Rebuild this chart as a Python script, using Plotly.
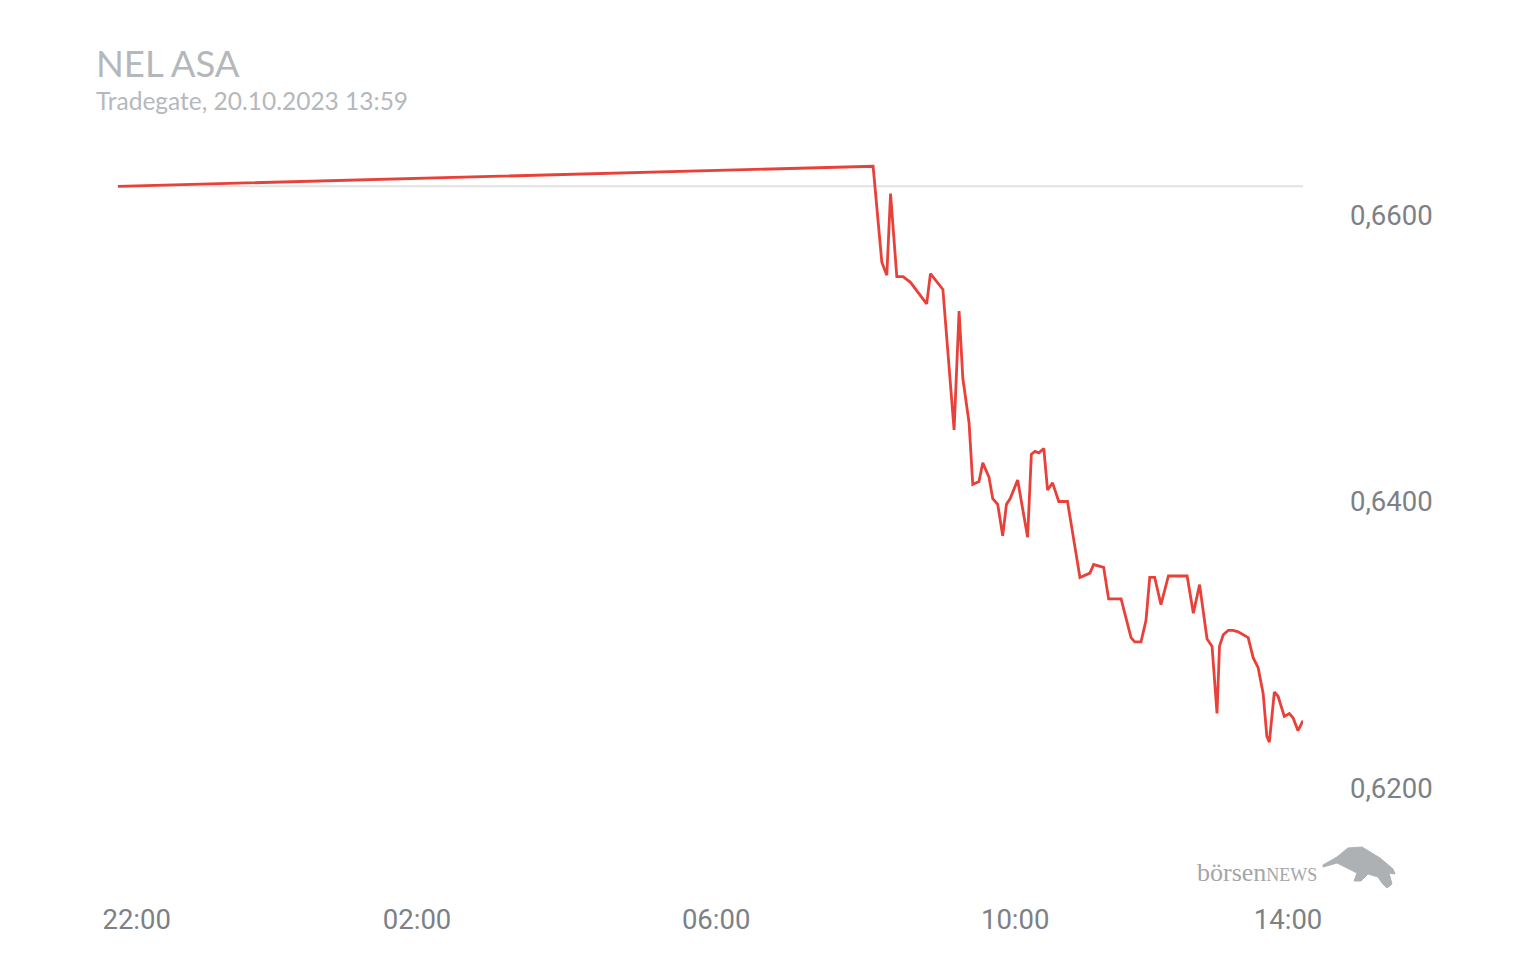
import plotly.graph_objects as go

# ---- data ----
trade_times = [
    "2023-10-19 22:00", "2023-10-20 08:06",
    "2023-10-20 08:13", "2023-10-20 08:17", "2023-10-20 08:20", "2023-10-20 08:25",
    "2023-10-20 08:30", "2023-10-20 08:36", "2023-10-20 08:49", "2023-10-20 08:52",
    "2023-10-20 09:02", "2023-10-20 09:06", "2023-10-20 09:11", "2023-10-20 09:15",
    "2023-10-20 09:18", "2023-10-20 09:23", "2023-10-20 09:26", "2023-10-20 09:31",
    "2023-10-20 09:34", "2023-10-20 09:39", "2023-10-20 09:42", "2023-10-20 09:46",
    "2023-10-20 09:50", "2023-10-20 09:53", "2023-10-20 09:56", "2023-10-20 10:02",
    "2023-10-20 10:10", "2023-10-20 10:13", "2023-10-20 10:16", "2023-10-20 10:19",
    "2023-10-20 10:23", "2023-10-20 10:26", "2023-10-20 10:30", "2023-10-20 10:35",
    "2023-10-20 10:42", "2023-10-20 10:52", "2023-10-20 10:57", "2023-10-20 11:00",
    "2023-10-20 11:03", "2023-10-20 11:11", "2023-10-20 11:15", "2023-10-20 11:25",
    "2023-10-20 11:33", "2023-10-20 11:36", "2023-10-20 11:41", "2023-10-20 11:45",
    "2023-10-20 11:48", "2023-10-20 11:52", "2023-10-20 11:57", "2023-10-20 12:03",
    "2023-10-20 12:18", "2023-10-20 12:23", "2023-10-20 12:28", "2023-10-20 12:31",
    "2023-10-20 12:34", "2023-10-20 12:38", "2023-10-20 12:42", "2023-10-20 12:44",
    "2023-10-20 12:47", "2023-10-20 12:51", "2023-10-20 12:55", "2023-10-20 12:59",
    "2023-10-20 13:07", "2023-10-20 13:11", "2023-10-20 13:15", "2023-10-20 13:19",
    "2023-10-20 13:22", "2023-10-20 13:24", "2023-10-20 13:28", "2023-10-20 13:31",
    "2023-10-20 13:36", "2023-10-20 13:40", "2023-10-20 13:43", "2023-10-20 13:47",
    "2023-10-20 13:51",
]
prices = [
    0.6620, 0.6634,
    0.6567, 0.6558, 0.6615, 0.6557, 0.6557, 0.6553, 0.6538, 0.6559,
    0.6548, 0.6506, 0.6450, 0.6533, 0.6486, 0.6455, 0.6412, 0.6414,
    0.6427, 0.6417, 0.6402, 0.6398, 0.6376, 0.6398, 0.6402, 0.6415,
    0.6375, 0.6433, 0.6435, 0.6434, 0.6437, 0.6408, 0.6413, 0.6400,
    0.6400, 0.6347, 0.6349, 0.6350, 0.6356, 0.6354, 0.6332, 0.6332,
    0.6305, 0.6302, 0.6302, 0.6317, 0.6347, 0.6347, 0.6328, 0.6348,
    0.6348, 0.6322, 0.6342, 0.6321, 0.6304, 0.6299, 0.6252, 0.6299,
    0.6307, 0.6310, 0.6310, 0.6309, 0.6305, 0.6291, 0.6284, 0.6266,
    0.6236, 0.6232, 0.6267, 0.6264, 0.6250, 0.6252, 0.6249, 0.6240,
    0.6247,
]
previous_close = 0.6620

y_tick_values = [0.62, 0.64, 0.66]
# edge labels are justified inward like in the source chart
x_tick_values = ["2023-10-19 22:15", "2023-10-20 02:00", "2023-10-20 06:00",
                 "2023-10-20 10:00", "2023-10-20 13:39"]
x_tick_labels = ["22:00", "02:00", "06:00", "10:00", "14:00"]

title_text = "NEL ASA"
subtitle_text = "Tradegate, 20.10.2023 13:59"

# ---- layout geometry ----
W, H = 1536, 960
ML, MR, MT, MB = 118, 233, 150, 70
PW, PH = W - ML - MR, H - MT - MB


def to_paper(px, py):
    return (px - ML) / PW, (H - MB - py) / PH


# rough silhouette of the logo's bull (decoration, pixel outline)
bull_outline = [(1323, 865), (1337, 857), (1348, 848), (1362, 847), (1380, 858),
                (1393, 869), (1395, 874), (1389, 873), (1392, 884), (1387, 888),
                (1382, 883), (1378, 877), (1368, 874), (1361, 881), (1354, 881),
                (1357, 873), (1347, 868), (1337, 863), (1323, 867)]
bull_path = "M " + " L ".join(
    "{:.5f},{:.5f}".format(*to_paper(px, py)) for px, py in bull_outline) + " Z"

# ---- figure ----
fig = go.Figure()
fig.add_trace(go.Scatter(
    x=trade_times, y=prices, mode="lines",
    line=dict(color="#e8413a", width=2.8),
    hoverinfo="skip", showlegend=False,
))

fig.add_shape(type="line", xref="paper", x0=0, x1=1, yref="y",
              y0=previous_close, y1=previous_close,
              line=dict(color="#e2e2e2", width=2), layer="below")
fig.add_shape(type="path", xref="paper", yref="paper", path=bull_path,
              fillcolor="#aeb1b4", line=dict(color="#aeb1b4", width=1))

tick_font = dict(family="Roboto", size=27.5, color="#7c8087")

fig.update_layout(
    width=W, height=H,
    margin=dict(l=ML, r=MR, t=MT, b=MB),
    paper_bgcolor="white", plot_bgcolor="white",
    separators=",.",
    showlegend=False,
    xaxis=dict(
        type="date",
        range=[trade_times[0], trade_times[-1]],
        tickvals=x_tick_values, ticktext=x_tick_labels,
        showgrid=False, zeroline=False, showline=False, ticks="",
        tickfont=tick_font, ticklabelstandoff=10,
    ),
    yaxis=dict(
        side="right",
        range=[0.61288, 0.664537],
        tickvals=y_tick_values, tickformat=".4f",
        showgrid=False, zeroline=False, showline=False, ticks="",
        tickfont=tick_font, ticklabelstandoff=46,
    ),
    annotations=[
        dict(text=title_text, xref="paper", yref="paper",
             x=-0.0205, y=1.0 + (MT - 63) / PH, xanchor="left", yanchor="middle",
             showarrow=False,
             font=dict(family="Lato", size=36.5, color="#b4b7bb")),
        dict(text=subtitle_text, xref="paper", yref="paper",
             x=-0.0205, y=1.0 + (MT - 100) / PH, xanchor="left", yanchor="middle",
             showarrow=False,
             font=dict(family="Lato", size=24.5, color="#b5b8bc")),
        dict(text="börsen<span style='font-size:18px'>NEWS</span>",
             xref="paper", yref="paper",
             x=(1195 - ML) / PW, y=(H - MB - 872) / PH, xanchor="left", yanchor="middle",
             showarrow=False,
             font=dict(family="Liberation Serif", size=26, color="#a3a6a9")),
    ],
)

fig.write_html("out.html")
